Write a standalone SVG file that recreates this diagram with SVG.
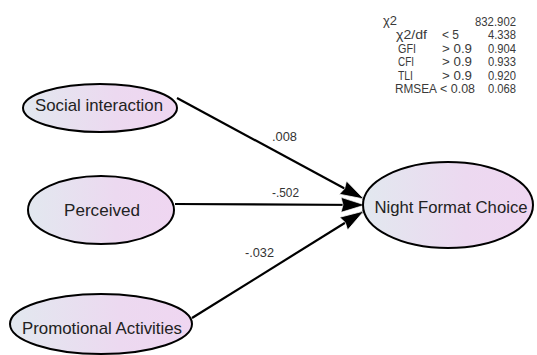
<svg xmlns="http://www.w3.org/2000/svg" width="537" height="355" viewBox="0 0 537 355">
<defs>
<linearGradient id="g" x1="0" y1="0" x2="1" y2="0">
<stop offset="0" stop-color="#e2e8ef"/>
<stop offset="0.6" stop-color="#ecd9f0"/>
<stop offset="1" stop-color="#efd6f1"/>
</linearGradient>
<marker id="ah" markerUnits="userSpaceOnUse" markerWidth="26" markerHeight="18" viewBox="0 0 26 18" refX="24" refY="9" orient="auto">
<path d="M0,1.5 L24,9 L0,16.5 L2,9 z" fill="#000" stroke="#fff" stroke-width="0.7"/>
</marker>
<style>
.node ellipse{fill:url(#g);stroke:#000;stroke-width:2}
.node text{font-family:"Liberation Sans",Arial,sans-serif;font-size:17px;fill:#222;text-anchor:middle}
.edge{stroke:#000;stroke-width:2.2;fill:none;marker-end:url(#ah)}
.lbl{font-family:"Liberation Sans",Arial,sans-serif;font-size:13px;fill:#333}
.fit{font-family:"Liberation Sans",Arial,sans-serif;font-size:12.5px;fill:#3a3a3a}
.r{text-anchor:end}
</style>
</defs>
<rect width="537" height="355" fill="#fff"/>
<g id="connectors">
<line class="edge" x1="177" y1="98" x2="364" y2="199"/>
<line class="edge" x1="175" y1="204" x2="365" y2="205"/>
<line class="edge" x1="192" y1="318" x2="364" y2="211"/>
<text class="lbl" x="272" y="141" textLength="25" lengthAdjust="spacingAndGlyphs">.008</text>
<text class="lbl" x="272" y="197" textLength="27" lengthAdjust="spacingAndGlyphs">-.502</text>
<text class="lbl" x="245" y="257" textLength="29" lengthAdjust="spacingAndGlyphs">-.032</text>
</g>
<g id="social" class="node">
<ellipse cx="100" cy="108" rx="77" ry="24"/>
<text x="99" y="111" textLength="128" lengthAdjust="spacingAndGlyphs">Social interaction</text>
</g>
<g id="perceived" class="node">
<ellipse cx="101" cy="210" rx="73" ry="34"/>
<text x="102" y="216" textLength="76" lengthAdjust="spacingAndGlyphs">Perceived</text>
</g>
<g id="promotional" class="node">
<ellipse cx="101" cy="324" rx="91" ry="30"/>
<text x="102" y="334" textLength="160" lengthAdjust="spacingAndGlyphs">Promotional Activities</text>
</g>
<g id="night" class="node">
<ellipse cx="448" cy="205" rx="85" ry="43"/>
<text x="451" y="213" textLength="153" lengthAdjust="spacingAndGlyphs">Night Format Choice</text>
</g>
<g id="fit-table">
<text class="fit" x="383" y="25" textLength="14" lengthAdjust="spacingAndGlyphs">χ2</text>
<text class="fit r" x="516" y="26" textLength="41" lengthAdjust="spacingAndGlyphs">832.902</text>
<text class="fit" x="396" y="39" textLength="31" lengthAdjust="spacingAndGlyphs">χ2/df</text>
<text class="fit" x="442" y="39" textLength="17" lengthAdjust="spacingAndGlyphs">&lt; 5</text>
<text class="fit r" x="516" y="39" textLength="28" lengthAdjust="spacingAndGlyphs">4.338</text>
<text class="fit" x="398" y="52.5" textLength="18" lengthAdjust="spacingAndGlyphs">GFI</text>
<text class="fit" x="442" y="52.5" textLength="30" lengthAdjust="spacingAndGlyphs">&gt; 0.9</text>
<text class="fit r" x="516" y="52.5" textLength="28" lengthAdjust="spacingAndGlyphs">0.904</text>
<text class="fit" x="398" y="66" textLength="16" lengthAdjust="spacingAndGlyphs">CFI</text>
<text class="fit" x="442" y="66" textLength="30" lengthAdjust="spacingAndGlyphs">&gt; 0.9</text>
<text class="fit r" x="516" y="66" textLength="28" lengthAdjust="spacingAndGlyphs">0.933</text>
<text class="fit" x="398" y="79.5" textLength="15" lengthAdjust="spacingAndGlyphs">TLI</text>
<text class="fit" x="442" y="79.5" textLength="30" lengthAdjust="spacingAndGlyphs">&gt; 0.9</text>
<text class="fit r" x="516" y="79.5" textLength="28" lengthAdjust="spacingAndGlyphs">0.920</text>
<text class="fit" x="395" y="93" textLength="42" lengthAdjust="spacingAndGlyphs">RMSEA</text>
<text class="fit" x="440" y="93" textLength="35" lengthAdjust="spacingAndGlyphs">&lt; 0.08</text>
<text class="fit r" x="516" y="93" textLength="28" lengthAdjust="spacingAndGlyphs">0.068</text>
</g>
</svg>
